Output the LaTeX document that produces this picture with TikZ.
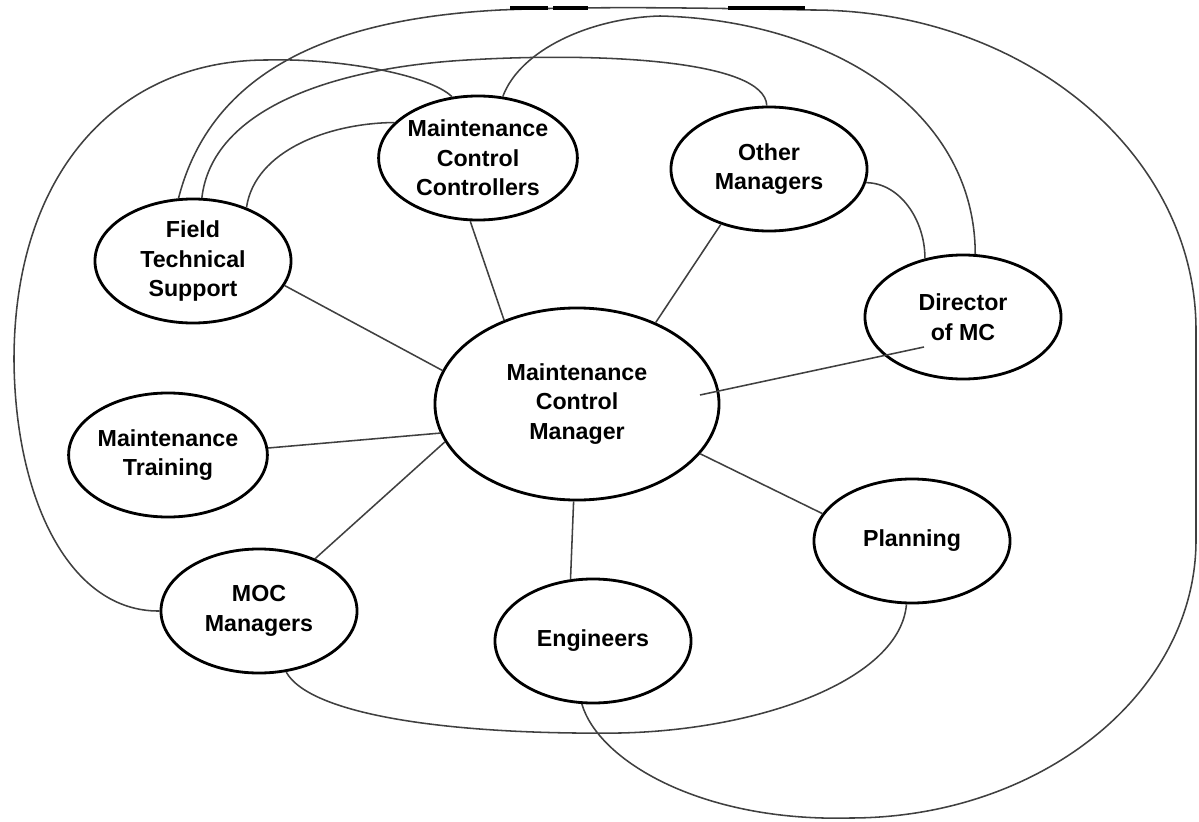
\documentclass[tikz,border=0pt]{standalone}
\usepackage{fontspec}
\setmainfont{Liberation Sans}
\usetikzlibrary{shapes.geometric,calc}

\tikzset{
  role/.style={ellipse, draw, line width=2pt, inner sep=0pt,
    minimum width=4.9cm, minimum height=3.1cm, align=center,
    font=\fontsize{16.5}{21}\selectfont\bfseries},
  hub/.style={role, minimum width=7.1cm, minimum height=4.8cm},
  link/.style={draw=black!75, line width=1.1pt},
}

\begin{document}
\begin{tikzpicture}[x=0.025cm, y=-0.025cm]
  \useasboundingbox (0,0) rectangle (1199,822);

  \node[hub]  (mcm) at (577,404) {Maintenance\\Control\\Manager};
  \node[role] (fts) at (193,261) {Field\\Technical\\Support};
  \node[role] (mcc) at (478,158) {Maintenance\\Control\\Controllers};
  \node[role] (oth) at (769,169) {Other\\Managers};
  \node[role] (dir) at (963,317) {Director\\of MC};
  \node[role] (trn) at (168,455) {Maintenance\\Training};
  \node[role] (moc) at (259,611) {MOC\\Managers};
  \node[role] (eng) at (593,641) {Engineers};
  \node[role] (pln) at (912,541) {Planning};

  % spokes to the manager
  \path[link]
    (fts.-15) edge (mcm.166)
    (mcc.-97) edge (mcm.131)
    (oth.-131) edge (mcm.46)
    (trn.4) edge (mcm.192)
    (moc.43) edge (mcm.196)
    (eng.110) edge (mcm.-92)
    (pln.163) edge (mcm.-22);
  \draw[link] ($(mcm)+(123,-9)$) -- ($(dir)+(-39,30)$);

  % outer loops
  \draw[link] (moc.180) .. controls (70,612) and (15,500) .. (14,360)
    .. controls (14,170) and (120,60) .. (267,60)
    .. controls (340,58) and (430,75) .. (mcc.113);
  \draw[link] (fts.103) .. controls (214,60) and (350,18) .. (500,10)
    .. controls (600,6) and (700,8) .. (812,10)
    .. controls (1024,10) and (1196,153) .. (1196,330)
    -- (1196,540)
    .. controls (1196,693) and (1041,818) .. (850,818)
    .. controls (700,822) and (598,760) .. (eng.260);
  \draw[link] (fts.82) .. controls (212,110) and (330,68) .. (467,60)
    .. controls (600,52) and (765,60) .. (oth.92);
  \draw[link] (fts.45) .. controls (255,150) and (330,123) .. (mcc.157);
  \draw[link] (mcc.68) .. controls (520,50) and (590,18) .. (660,16)
    .. controls (830,20) and (975,110) .. (dir.79);
  \draw[link] (oth.-8) .. controls (900,183) and (925,220) .. (dir.123);
  \draw[link] (moc.-66) .. controls (310,715) and (450,735) .. (620,733)
    .. controls (760,730) and (900,680) .. (pln.-95);

  % marks on the top edge
  \fill (510,6) rectangle (548,10);
  \fill (553,6) rectangle (588,10);
  \fill (728,6) rectangle (805,10);
\end{tikzpicture}
\end{document}
